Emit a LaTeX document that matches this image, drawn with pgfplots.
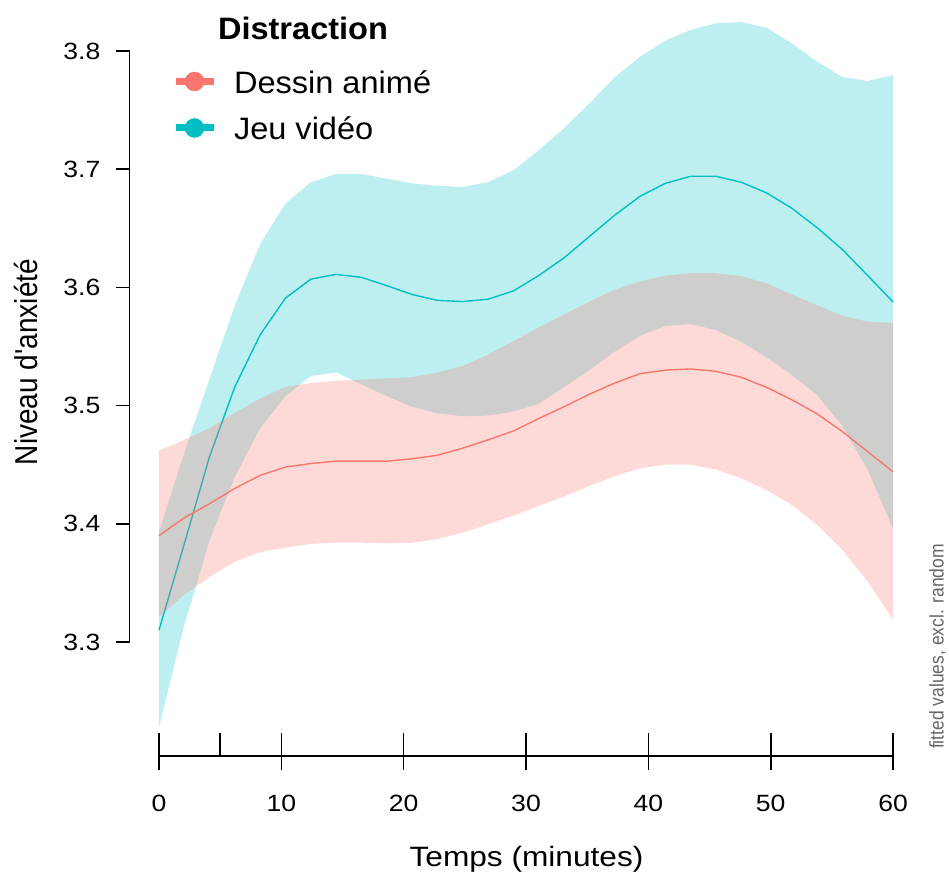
\documentclass[border=0pt]{standalone}
\usepackage{fontspec}
\setmainfont{Liberation Sans}
\newfontfamily\rfont{Liberation Sans}[FakeStretch=1.13]
\newfontfamily\lfont{Liberation Sans}[FakeStretch=1.05]
\usepackage{graphicx}
\usepackage{pgfplots}
\pgfplotsset{compat=1.18}
\usepackage{pgfplotstable}
\usepgfplotslibrary{fillbetween}
\definecolor{redC}{HTML}{F8766D}
\definecolor{cyanC}{HTML}{00BFC4}

\pgfplotstableread{
x fit lo hi
0      3.390  3.321  3.462
2.069  3.405  3.340  3.471
4.138  3.417  3.355  3.481
6.207  3.430  3.368  3.494
8.276  3.441  3.376  3.506
10.345 3.448  3.380  3.516
12.414 3.451  3.383  3.519
14.483 3.453  3.384  3.521
16.552 3.453  3.384  3.522
18.621 3.453  3.3835 3.523
20.690 3.455  3.384  3.524
22.759 3.458  3.387  3.528
24.828 3.464  3.3925 3.5335
26.897 3.471  3.3996 3.543
28.966 3.4785 3.407  3.5545
31.034 3.489  3.415  3.566
33.103 3.499  3.423  3.577
35.172 3.5096 3.432  3.588
37.241 3.519  3.440  3.598
39.310 3.527  3.447  3.605
41.379 3.530  3.450  3.610
43.448 3.531  3.450  3.612
45.517 3.529  3.446  3.612
47.586 3.524  3.4385 3.6096
49.655 3.5155 3.4286 3.6035
51.724 3.505  3.416  3.594
53.793 3.493  3.399  3.585
55.862 3.478  3.378  3.576
57.931 3.461  3.351  3.571
60     3.444  3.319  3.570
}\redtab

\pgfplotstableread{
x fit lo hi
0      3.310  3.228  3.393
2.069  3.383  3.314  3.460
4.138  3.457  3.386  3.523
6.207  3.516  3.440  3.585
8.276  3.560  3.481  3.637
10.345 3.591  3.508  3.671
12.414 3.607  3.525  3.689
14.483 3.611  3.528  3.696
16.552 3.6085 3.518  3.696
18.621 3.6015 3.508  3.692
20.690 3.594  3.499  3.688
22.759 3.589  3.4935 3.686
24.828 3.588  3.491  3.685
26.897 3.590  3.4915 3.689
28.966 3.597  3.495  3.699
31.034 3.610  3.5015 3.716
33.103 3.625  3.5155 3.7346
35.172 3.643  3.530  3.7557
37.241 3.661  3.5456 3.7777
39.310 3.677  3.559  3.795
41.379 3.688  3.5673 3.8087
43.448 3.694  3.569  3.8178
45.517 3.694  3.564  3.8234
47.586 3.689  3.554  3.8245
49.655 3.680  3.541  3.8197
51.724 3.667  3.526  3.8065
53.793 3.6505 3.509  3.791
55.862 3.632  3.4827 3.778
57.931 3.610  3.4455 3.7746
60     3.5877 3.396  3.7797
}\cyantab

\pgfplotstableread{
x y
0  3.21328
5  3.21328
10 3.21328
20 3.21328
30 3.21328
40 3.21328
50 3.21328
60 3.21328
}\rugtab

\begin{document}
\begin{tikzpicture}[x=1pt,y=1pt]
\begin{axis}[
  at={(129.6pt,117pt)}, anchor=south west,
  scale only axis, width=792.8pt, height=756pt,
  xmin=-2.4, xmax=62.4, ymin=3.20355, ymax=3.84315,
  clip=false,
  axis x line*=bottom, axis y line*=left,
  axis line style={draw=none},
  xtick={0,10,20,30,40,50,60},
  xticklabels={0,10,20,30,40,50,60},
  ytick={3.3,3.4,3.5,3.6,3.7,3.8},
  yticklabels={3.3,3.4,3.5,3.6,3.7,3.8},
  tick align=outside,
  major tick length=14pt,
  tick style={black, line width=1.6pt},
  ticklabel style={font=\rfont\fontsize{23.5}{28}\selectfont, inner sep=0pt},
  xticklabel style={yshift=-24.5pt},
  yticklabel style={xshift=-15pt},
  legend style={at={(axis description cs:0.05348,0.97487)}, anchor=north west,
    draw=none, fill=none, inner sep=0pt, outer sep=0pt,
    row sep=14.5pt, column sep=0pt,
    nodes={inner sep=0pt, text height=28pt, text depth=4pt},
    font=\lfont\fontsize{31}{37}\selectfont},
  legend cell align=left,
  legend image code/.code={\draw[line width=7pt] (0pt,0pt) -- (38pt,0pt); \fill (19pt,0pt) circle (9.5pt);},
]
\addlegendimage{empty legend}
\addlegendentry{\raisebox{7pt}{\hspace*{1pt}\textbf{Distraction}}}
\addlegendimage{redC}
\addlegendentry{\hspace*{17pt}Dessin animé}
\addlegendimage{cyanC}
\addlegendentry{\hspace*{17pt}Jeu vidéo}

\addplot[name path=cU, draw=none, forget plot] table[x=x,y=hi]{\cyantab};
\addplot[name path=cL, draw=none, forget plot] table[x=x,y=lo]{\cyantab};
\addplot[fill=cyanC, fill opacity=0.255, draw=none, forget plot] fill between[of=cU and cL, on layer=main];
\addplot[cyanC, line width=1.4pt, forget plot] table[x=x,y=fit]{\cyantab};
\addplot[name path=rU, draw=none, forget plot] table[x=x,y=hi]{\redtab};
\addplot[name path=rL, draw=none, forget plot] table[x=x,y=lo]{\redtab};
\addplot[fill=redC, fill opacity=0.27, draw=none, forget plot] fill between[of=rU and rL, on layer=main];
\addplot[redC, line width=1.4pt, forget plot] table[x=x,y=fit]{\redtab};
\addplot[only marks, mark=|, mark size=11.5pt, mark options={line width=1.6pt, draw=black}, forget plot] table[x=x,y=y]{\rugtab};

\draw[line width=1.6pt] (axis cs:-2.4,3.3) -- (axis cs:-2.4,3.8);
\draw[line width=1.6pt] (axis cs:0,3.20355) -- (axis cs:60,3.20355);
\end{axis}
\node[anchor=base, font=\rfont\fontsize{28}{34}\selectfont] at (526.5,7) {Temps (minutes)};
\node[rotate=90, anchor=base, font=\fontsize{28}{34}\selectfont] at (37,511) {\scalebox{1}[1.13]{Niveau d\textquotesingle anxiété}};
\node[rotate=90, anchor=base, font=\fontsize{17.5}{20}\selectfont, text=black!60] at (943.5,226.5) {\scalebox{1}[1.13]{fitted values, excl. random}};
\pgfresetboundingbox
\path[use as bounding box] (0,0) rectangle (949,873);
\end{tikzpicture}
\end{document}
